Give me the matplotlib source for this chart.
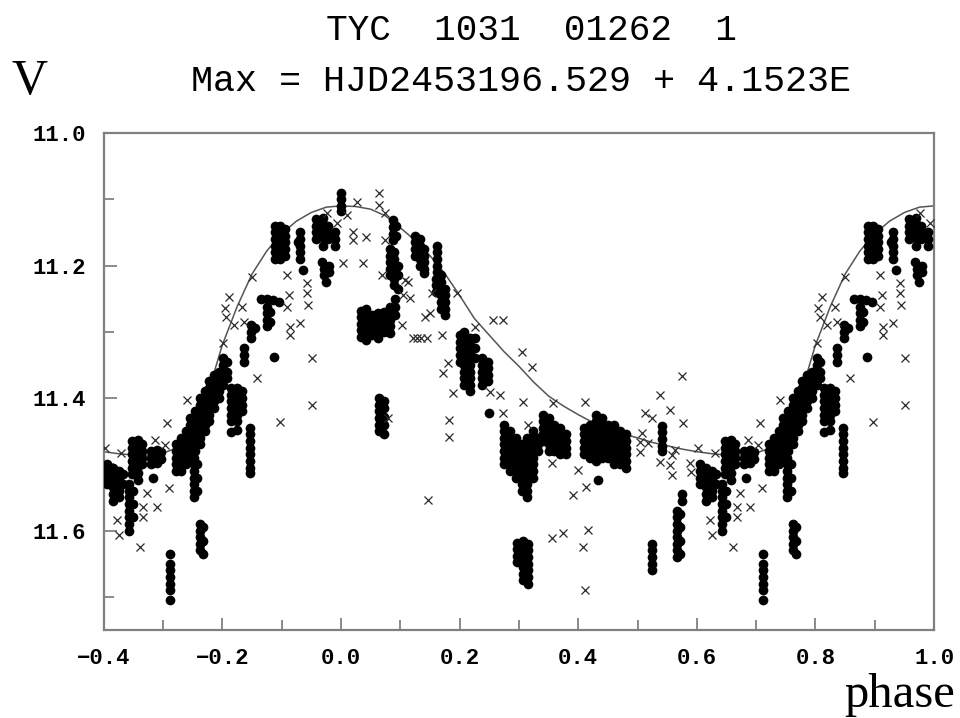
import numpy as np
import matplotlib.pyplot as plt


titulo = "TYC  1031  01262  1"
subtitulo = "Max = HJD2453196.529 + 4.1523E"

# curva ajustada, um ciclo (fase 0..1)
curva_fase = [0.0, 0.025, 0.05, 0.075, 0.1, 0.125, 0.15, 0.175, 0.2, 0.225,
              0.25, 0.275, 0.3, 0.325, 0.35, 0.375, 0.4, 0.425, 0.45, 0.475,
              0.5, 0.525, 0.55, 0.575, 0.6, 0.625, 0.65, 0.675, 0.7, 0.725,
              0.75, 0.775, 0.8, 0.825, 0.85, 0.875, 0.9, 0.925, 0.95, 0.975, 1.0]
curva_v = [11.110, 11.111, 11.115, 11.125, 11.143, 11.162, 11.185, 11.212, 11.245, 11.280,
           11.305, 11.330, 11.352, 11.376, 11.397, 11.412, 11.425, 11.437, 11.447, 11.454,
           11.460, 11.467, 11.472, 11.477, 11.481, 11.484, 11.486, 11.486, 11.483, 11.475,
           11.452, 11.395, 11.320, 11.262, 11.213, 11.178, 11.152, 11.133, 11.120, 11.112, 11.110]

# pontos CCD (circulos cheios): (fase, [V ...])
pontos = [
    (0.000, [11.090, 11.100, 11.110, 11.118]),
    (0.033, [11.268, 11.278, 11.288, 11.298, 11.308]),
    (0.043, [11.265, 11.275, 11.285, 11.295, 11.305, 11.312]),
    (0.053, [11.275, 11.285, 11.295, 11.305]),
    (0.063, [11.272, 11.282, 11.292, 11.302, 11.310]),
    (0.073, [11.270, 11.280, 11.290, 11.300]),
    (0.083, [11.262, 11.272, 11.282, 11.292, 11.302]),
    (0.091, [11.250, 11.262, 11.275]),
    (0.065, [11.400, 11.410, 11.420, 11.430, 11.440, 11.450]),
    (0.072, [11.405, 11.415, 11.428, 11.440, 11.455]),
    (0.087, [11.132, 11.142, 11.152, 11.162]),
    (0.092, [11.140, 11.155]),
    (0.082, [11.175, 11.185, 11.195, 11.205, 11.215]),
    (0.090, [11.180, 11.190, 11.200, 11.210, 11.220, 11.230]),
    (0.097, [11.200, 11.215, 11.235]),
    (0.125, [11.155, 11.165, 11.175, 11.185]),
    (0.133, [11.160, 11.170, 11.180, 11.190, 11.200]),
    (0.140, [11.175, 11.185, 11.195, 11.205, 11.212]),
    (0.162, [11.170, 11.180, 11.190, 11.200, 11.210]),
    (0.160, [11.220, 11.230, 11.240]),
    (0.168, [11.215, 11.225, 11.235, 11.245, 11.255, 11.265]),
    (0.176, [11.235, 11.245, 11.255, 11.265, 11.275]),
    (0.200, [11.305, 11.315, 11.325, 11.335, 11.345]),
    (0.208, [11.300, 11.310, 11.320, 11.330, 11.340, 11.350, 11.360, 11.370, 11.380]),
    (0.217, [11.310, 11.320, 11.330, 11.340, 11.350, 11.360, 11.370, 11.380, 11.390]),
    (0.226, [11.310, 11.325, 11.340]),
    (0.238, [11.340, 11.350, 11.360, 11.370, 11.380]),
    (0.248, [11.345, 11.355, 11.365, 11.375]),
    (0.250, [11.423]),
    (0.275, [11.440, 11.450, 11.460, 11.470, 11.480, 11.490, 11.500]),
    (0.285, [11.450, 11.460, 11.470, 11.480, 11.490, 11.500, 11.510]),
    (0.295, [11.460, 11.470, 11.480, 11.490, 11.500, 11.510, 11.520]),
    (0.305, [11.470, 11.480, 11.490, 11.500, 11.510, 11.520, 11.530, 11.540]),
    (0.314, [11.460, 11.470, 11.480, 11.490, 11.500, 11.510, 11.520, 11.530, 11.540, 11.550]),
    (0.323, [11.450, 11.460, 11.470, 11.480, 11.490, 11.500, 11.510, 11.520]),
    (0.332, [11.460, 11.470, 11.480]),
    (0.340, [11.425, 11.435, 11.445, 11.455, 11.465]),
    (0.350, [11.430, 11.440, 11.450, 11.460, 11.470, 11.480]),
    (0.360, [11.440, 11.450, 11.460, 11.470, 11.480]),
    (0.370, [11.445, 11.455, 11.465, 11.475, 11.485]),
    (0.380, [11.455, 11.465, 11.475, 11.485]),
    (0.410, [11.445, 11.455, 11.465, 11.475, 11.485]),
    (0.420, [11.440, 11.450, 11.460, 11.470, 11.480, 11.490]),
    (0.430, [11.425, 11.435, 11.445, 11.455, 11.465, 11.475, 11.485, 11.495]),
    (0.433, [11.524]),
    (0.440, [11.430, 11.440, 11.450, 11.460, 11.470, 11.480, 11.490]),
    (0.450, [11.440, 11.450, 11.460, 11.470, 11.480, 11.490]),
    (0.460, [11.440, 11.450, 11.460, 11.470, 11.480, 11.490, 11.500]),
    (0.470, [11.450, 11.460, 11.470, 11.480, 11.490, 11.500]),
    (0.480, [11.455, 11.465, 11.475, 11.485, 11.495, 11.505]),
    (0.297, [11.618, 11.628, 11.638, 11.648]),
    (0.307, [11.615, 11.625, 11.635, 11.645, 11.655, 11.665, 11.675]),
    (0.315, [11.620, 11.630, 11.640, 11.650, 11.660, 11.670, 11.680]),
    (0.525, [11.620, 11.630, 11.640, 11.650, 11.660]),
    (0.541, [11.442, 11.452, 11.462, 11.472, 11.480]),
    (0.575, [11.545, 11.555]),
    (0.566, [11.570, 11.580, 11.590, 11.600, 11.610, 11.620, 11.630, 11.640]),
    (0.572, [11.575, 11.595, 11.615, 11.635]),
    (0.605, [11.500, 11.510, 11.520, 11.530]),
    (0.615, [11.505, 11.515, 11.525, 11.535, 11.545, 11.555]),
    (0.625, [11.510, 11.520, 11.530, 11.540, 11.550]),
    (0.632, [11.515, 11.530]),
    (0.642, [11.530, 11.540, 11.550, 11.560, 11.570, 11.580, 11.590, 11.600]),
    (0.650, [11.540, 11.560, 11.580]),
    (0.648, [11.465, 11.475, 11.485, 11.495, 11.505, 11.515]),
    (0.658, [11.463, 11.473, 11.483, 11.493, 11.503, 11.513, 11.523]),
    (0.665, [11.470, 11.480, 11.490, 11.500]),
    (0.680, [11.480, 11.490, 11.500]),
    (0.690, [11.478, 11.488, 11.498]),
    (0.697, [11.482, 11.492]),
    (0.683, [11.521]),
    (0.711, [11.635, 11.650, 11.660, 11.670, 11.680, 11.690, 11.705]),
    (0.722, [11.470, 11.480, 11.490, 11.500, 11.510]),
    (0.730, [11.460, 11.470, 11.480, 11.490, 11.500, 11.510]),
    (0.738, [11.450, 11.460, 11.470, 11.480, 11.490, 11.500]),
    (0.746, [11.430, 11.440, 11.450, 11.460, 11.470, 11.480, 11.490]),
    (0.754, [11.420, 11.430, 11.440, 11.450, 11.460, 11.470, 11.480]),
    (0.762, [11.400, 11.410, 11.420, 11.430, 11.440, 11.450, 11.460, 11.470]),
    (0.770, [11.390, 11.400, 11.410, 11.420, 11.430, 11.440, 11.450]),
    (0.778, [11.375, 11.385, 11.395, 11.405, 11.415, 11.425, 11.435]),
    (0.786, [11.365, 11.375, 11.385, 11.395, 11.405, 11.415]),
    (0.794, [11.360, 11.370, 11.380, 11.390, 11.400]),
    (0.802, [11.340, 11.350, 11.360, 11.370, 11.380]),
    (0.808, [11.345, 11.360, 11.370]),
    (0.752, [11.490, 11.500, 11.510, 11.520, 11.530, 11.540, 11.550]),
    (0.758, [11.500, 11.520, 11.540]),
    (0.762, [11.590, 11.600, 11.610, 11.620, 11.630]),
    (0.768, [11.595, 11.615, 11.635]),
    (0.815, [11.385, 11.395, 11.405, 11.415, 11.425, 11.435, 11.452]),
    (0.825, [11.385, 11.395, 11.405, 11.415, 11.425, 11.435, 11.448]),
    (0.833, [11.390, 11.400, 11.410, 11.420]),
    (0.847, [11.445, 11.455, 11.465, 11.475, 11.485, 11.495, 11.505, 11.513]),
    (0.836, [11.325, 11.335, 11.345]),
    (0.848, [11.290, 11.300, 11.310]),
    (0.855, [11.295]),
    (0.865, [11.250]),
    (0.875, [11.250, 11.262, 11.272, 11.282, 11.292]),
    (0.880, [11.270, 11.285]),
    (0.885, [11.252]),
    (0.895, [11.255]),
    (0.887, [11.338]),
    (0.888, [11.140, 11.150, 11.160, 11.170, 11.180, 11.190]),
    (0.897, [11.140, 11.150, 11.160, 11.170, 11.180, 11.190]),
    (0.906, [11.145, 11.155, 11.165, 11.175, 11.185]),
    (0.927, [11.165]),
    (0.931, [11.150, 11.160, 11.170, 11.180, 11.190]),
    (0.936, [11.207]),
    (0.958, [11.130, 11.140, 11.150, 11.160]),
    (0.970, [11.128, 11.138, 11.148, 11.158, 11.170]),
    (0.978, [11.140, 11.150, 11.160]),
    (0.990, [11.150, 11.160, 11.170]),
    (0.968, [11.195]),
    (0.972, [11.205, 11.215]),
    (0.975, [11.225]),
    (0.980, [11.200, 11.210]),
]

# estimativas visuais (cruzes)
cruz_fase = [0.027, 0.010, 0.993, 0.020, 0.020, 0.043, 0.003, 0.037, 0.065, 0.065,
             0.074, 0.074, 0.069, 0.108, 0.113, 0.104, 0.116, 0.153, 0.195, 0.141,
             0.150, 0.103, 0.121, 0.128, 0.135, 0.145, 0.170, 0.226, 0.256, 0.273,
             0.305, 0.322, 0.180, 0.172, 0.189, 0.183, 0.183, 0.079, 0.146, 0.251,
             0.268, 0.273, 0.307, 0.315, 0.357, 0.411, 0.355, 0.399, 0.414, 0.391,
             0.355, 0.374, 0.416, 0.408, 0.411, 0.512, 0.524, 0.554, 0.576, 0.507,
             0.504, 0.504, 0.517, 0.538, 0.575, 0.538, 0.558, 0.554, 0.563, 0.588,
             0.591, 0.558, 0.602, 0.630, 0.706, 0.686, 0.703, 0.673, 0.710, 0.690,
             0.740, 0.667, 0.667, 0.622, 0.625, 0.661, 0.858, 0.897, 0.951, 0.976,
             0.909, 0.942, 0.942, 0.945, 0.912, 0.909, 0.931, 0.914, 0.914, 0.951,
             0.850, 0.811, 0.804, 0.807, 0.819, 0.836, 0.833, 0.802]
cruz_v = [11.104, 11.124, 11.136, 11.149, 11.161, 11.157, 11.196, 11.196, 11.091, 11.109,
          11.121, 11.161, 11.214, 11.222, 11.225, 11.245, 11.249, 11.242, 11.242, 11.278,
          11.272, 11.290, 11.310, 11.310, 11.310, 11.310, 11.305, 11.293, 11.282, 11.282,
          11.330, 11.353, 11.347, 11.362, 11.392, 11.433, 11.459, 11.430, 11.554, 11.391,
          11.395, 11.423, 11.406, 11.440, 11.408, 11.406, 11.498, 11.509, 11.534, 11.546,
          11.611, 11.604, 11.599, 11.625, 11.690, 11.423, 11.430, 11.418, 11.438, 11.453,
          11.466, 11.481, 11.468, 11.395, 11.366, 11.497, 11.486, 11.501, 11.478, 11.498,
          11.512, 11.516, 11.475, 11.483, 11.438, 11.463, 11.471, 11.543, 11.536, 11.565,
          11.403, 11.565, 11.580, 11.584, 11.607, 11.625, 11.370, 11.436, 11.410, 11.121,
          11.214, 11.226, 11.242, 11.260, 11.245, 11.263, 11.287, 11.293, 11.305, 11.340,
          11.217, 11.248, 11.264, 11.278, 11.290, 11.285, 11.263, 11.317]


def expandir_pontos(lista):
    fase, mag = [], []
    for f, valores in lista:
        for v in valores:
            fase.append(f)
            mag.append(v)
    return np.array(fase), np.array(mag)


def repetir_ciclo(fase, mag, inicio=-0.4):
    # o grafico mostra -0.4..1.0, entao a parte final do ciclo aparece de novo a esquerda
    fase = np.asarray(fase)
    mag = np.asarray(mag)
    extra = fase - 1.0
    sel = extra >= inicio
    return np.concatenate([extra[sel], fase]), np.concatenate([mag[sel], mag])


def main():
    fig = plt.figure(figsize=(9.6, 7.18), dpi=100)
    ax = fig.add_axes([0.108, 0.1226, 0.865, 0.6922])

    cf, cv = repetir_ciclo(curva_fase[:-1], curva_v[:-1])
    ordem = np.argsort(cf)
    cf = np.append(cf[ordem], curva_fase[-1])
    cv = np.append(cv[ordem], curva_v[-1])
    ax.plot(cf, cv, color='#555555', lw=1.1, zorder=2)

    pf, pv = expandir_pontos(pontos)
    pf, pv = repetir_ciclo(pf, pv)
    ax.plot(pf, pv, 'o', color='black', ms=7, mew=0, zorder=3)

    xf, xv = repetir_ciclo(cruz_fase, cruz_v)
    ax.plot(xf, xv, 'x', color='#2a2a2a', ms=5.5, mew=0.9, zorder=4)

    ax.set_xlim(-0.4, 1.0)
    ax.set_ylim(11.75, 11.0)

    ax.set_xticks(np.arange(-0.4, 1.01, 0.2))
    ax.set_xticks(np.arange(-0.3, 1.0, 0.2), minor=True)
    ax.set_yticks([11.0, 11.2, 11.4, 11.6])
    ax.set_yticks([11.1, 11.3, 11.5, 11.7], minor=True)
    ax.set_xticklabels(['\u22120.4', '\u22120.2', '0.0', '0.2', '0.4', '0.6', '0.8', '1.0'])
    ax.set_yticklabels(['11.0', '11.2', '11.4', '11.6'])

    ax.tick_params(which='both', direction='in', top=False, right=False,
                   color='#777777', width=1.2)
    ax.tick_params(which='major', length=9, pad=13)
    ax.tick_params(which='minor', length=7)
    for lbl in ax.get_xticklabels() + ax.get_yticklabels():
        lbl.set_fontfamily('Liberation Mono')
        lbl.set_fontweight('bold')
        lbl.set_fontsize(16)

    for sp in ax.spines.values():
        sp.set_color('#808080')
        sp.set_linewidth(1.6)

    fig.text(0.554, 0.958, titulo, ha='center', va='center',
             family='Liberation Mono', fontsize=26)
    fig.text(0.543, 0.886, subtitulo, ha='center', va='center',
             family='Liberation Mono', fontsize=26.5)
    fig.text(0.031, 0.886, 'V', ha='center', va='center',
             family='Liberation Serif', fontsize=36)
    fig.text(0.995, 0.016, 'phase', ha='right', va='baseline',
             family='Liberation Serif', fontsize=35)

    fig.savefig('out.png', dpi=100)


if __name__ == '__main__':
    main()
